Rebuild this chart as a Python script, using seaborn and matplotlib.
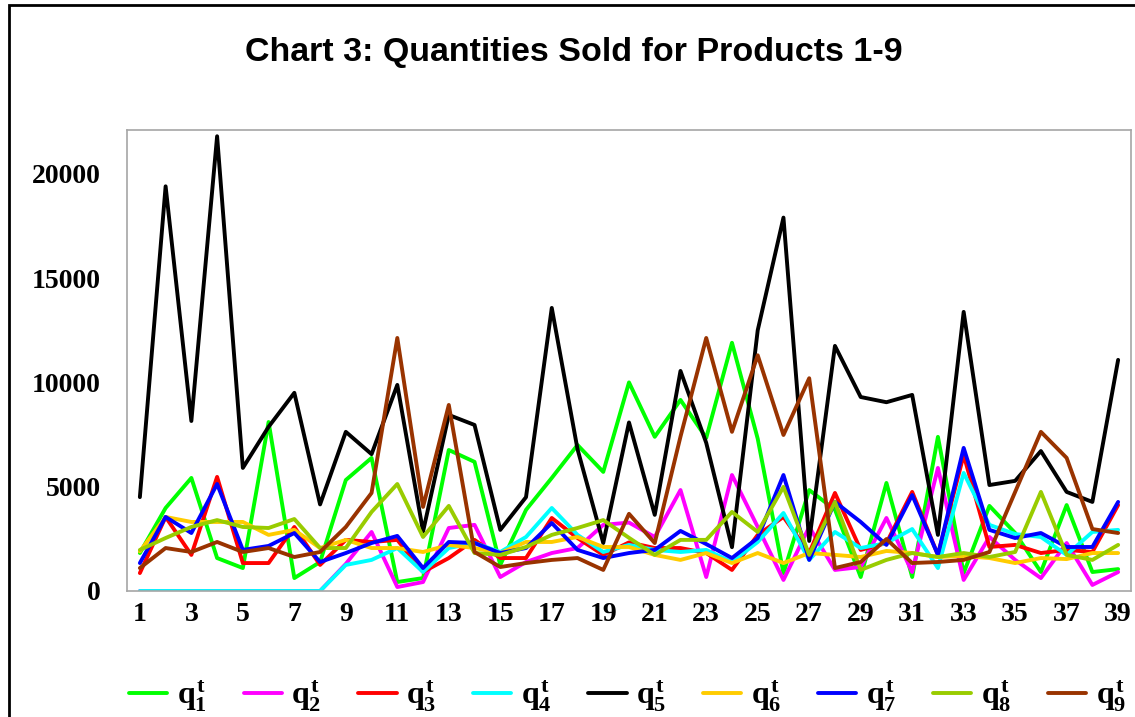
import numpy as np
import pandas as pd
import matplotlib
matplotlib.use("Agg")
import matplotlib.pyplot as plt
import seaborn as sns
from matplotlib.patches import Rectangle

# periods 1..39
periods = list(range(1, 40))

q1 = [1820, 3980, 5420, 1580, 1100, 8100, 620, 1390, 5320, 6380, 430, 620, 6760, 6190, 1250,
      3890, 5420, 7000, 5710, 10000, 7390, 9160, 7340, 11900, 7300, 860, 4840, 3900, 670, 5180,
      670, 7390, 860, 4080, 2780, 910, 4120, 910, 1050]
q2 = [0, 0, 0, 0, 0, 0, 0, 0, 1300, 2830, 190, 430, 3020, 3170, 670,
      1390, 1820, 2060, 3170, 3280, 2590, 4840, 670, 5560, 3070, 530, 3070, 1010, 1150, 3500,
      910, 5900, 530, 2590, 1490, 620, 2300, 290, 910]
q3 = [860, 3550, 1730, 5470, 1340, 1340, 3070, 1250, 2450, 2350, 2450, 910, 1580, 2450, 1580,
      1580, 3500, 2540, 1730, 2330, 2060, 2060, 1820, 1010, 2690, 3550, 1820, 4700, 1970, 2300,
      4750, 1730, 6520, 2110, 2210, 1820, 1970, 1870, 4120]
q4 = [0, 0, 0, 0, 0, 0, 0, 0, 1250, 1490, 2060, 910, 2060, 2300, 1870,
      2590, 3980, 2690, 1870, 2210, 1970, 1870, 1970, 1390, 2350, 3740, 1490, 2830, 2060, 2300,
      2970, 1100, 5660, 3170, 2730, 2590, 1730, 2830, 2930]
q5 = [4500, 19400, 8150, 21800, 5900, 7870, 9500, 4150, 7630, 6560, 9880, 2850, 8440, 7960, 2930,
      4500, 13570, 6800, 2300, 8080, 3650, 10550, 7100, 2100, 12500, 17900, 2400, 11750, 9300, 9050,
      9400, 2690, 13380, 5080, 5280, 6710, 4750, 4270, 11080]
q6 = [1900, 3550, 3310, 3310, 3310, 2690, 2930, 2060, 2450, 2060, 2060, 1870, 2210, 2060, 1820,
      2350, 2350, 2590, 2110, 2110, 1730, 1490, 1820, 1340, 1820, 1340, 1820, 1730, 1630, 1920,
      1820, 1630, 1680, 1580, 1340, 1580, 1530, 1820, 1820]
q7 = [1340, 3550, 2780, 5130, 1970, 2160, 2780, 1390, 1820, 2300, 2640, 1100, 2350, 2300, 1820,
      2060, 3260, 1970, 1580, 1820, 1970, 2880, 2250, 1580, 2540, 5560, 1490, 4270, 3310, 2210,
      4600, 1730, 6860, 2930, 2540, 2780, 2110, 2110, 4270]
q8 = [1970, 2540, 3070, 3400, 3070, 3020, 3450, 2060, 2060, 3790, 5130, 2590, 4080, 1820, 1730,
      2110, 2690, 3020, 3400, 2550, 1730, 2450, 2450, 3790, 2830, 4990, 1730, 4270, 1010, 1490,
      1820, 1630, 1820, 1630, 1870, 4750, 1730, 1490, 2210]
q9 = [1100, 2060, 1870, 2350, 1870, 2060, 1630, 1870, 3070, 4700, 12130, 4030, 8920, 1870, 1150,
      1340, 1490, 1580, 1010, 3700, 2300, 7400, 12130, 7630, 11300, 7480, 10200, 1100, 1390, 2490,
      1340, 1390, 1490, 1870, 4750, 7630, 6380, 2970, 2780]

series_names = [f"$q_{i}^t$" for i in range(1, 10)]
series_values = [q1, q2, q3, q4, q5, q6, q7, q8, q9]
colors = ["#00ff00", "#ff00ff", "#ff0000", "#00ffff", "#000000",
          "#ffcc00", "#0000ff", "#99cc00", "#993300"]

df = pd.concat(
    [pd.DataFrame({"t": periods, "q": v, "series": n}) for n, v in zip(series_names, series_values)],
    ignore_index=True)

sns.set_style("white")
plt.rcParams["text.color"] = "black"
plt.rcParams["xtick.color"] = "black"
plt.rcParams["ytick.color"] = "black"
plt.rcParams["mathtext.fontset"] = "custom"
plt.rcParams["mathtext.it"] = "Liberation Serif:bold"
plt.rcParams["mathtext.rm"] = "Liberation Serif:bold"
plt.rcParams["mathtext.bf"] = "Liberation Serif:bold"

fig = plt.figure(figsize=(11.35, 7.17), dpi=100)
ax = fig.add_axes([127 / 1135, 1 - 591 / 717, (1131 - 127) / 1135, (591 - 130) / 717])

sns.lineplot(data=df, x="t", y="q", hue="series", palette=dict(zip(series_names, colors)),
             linewidth=2.8, ax=ax, legend=True)

ax.set_xlim(0.5, 39.5)
ax.set_ylim(0, 22100)
ax.set_xticks(range(1, 40, 2))
ax.set_yticks([0, 5000, 10000, 15000, 20000])
ax.set_xlabel("")
ax.set_ylabel("")
ax.tick_params(length=0, colors="black")
ax.tick_params(axis="y", pad=19)
ax.tick_params(axis="x", pad=8)
for lab in ax.get_xticklabels() + ax.get_yticklabels():
    lab.set_fontfamily("Liberation Serif")
    lab.set_fontweight("bold")
    lab.set_fontsize(20)
    lab.set_color("black")
for sp in ax.spines.values():
    sp.set_color("#a6a6a6")
    sp.set_linewidth(1.2)
ax.grid(False)

handles, labels = ax.get_legend_handles_labels()
leg = ax.legend(handles, labels, loc="center", bbox_to_anchor=(0.553, 0.029),
                bbox_transform=fig.transFigure, ncol=9, frameon=False,
                prop={"family": "Liberation Serif", "weight": "bold", "size": 23},
                handlelength=1.2, handletextpad=0.3, columnspacing=1.15)
for t in leg.get_texts():
    t.set_color("black")

fig.text(0.506, 0.927, "Chart 3: Quantities Sold for Products 1-9", ha="center", va="center",
         fontsize=24.5, fontweight="bold", family="Liberation Sans", color="black")

# outer chart border (left and top visible)
fig.patches.append(Rectangle((9 / 1135, -0.1), 1.2, 1.1 - 5 / 717, transform=fig.transFigure,
                             fill=False, ec="black", lw=2))

fig.savefig("out.png", dpi=100, facecolor="white")
